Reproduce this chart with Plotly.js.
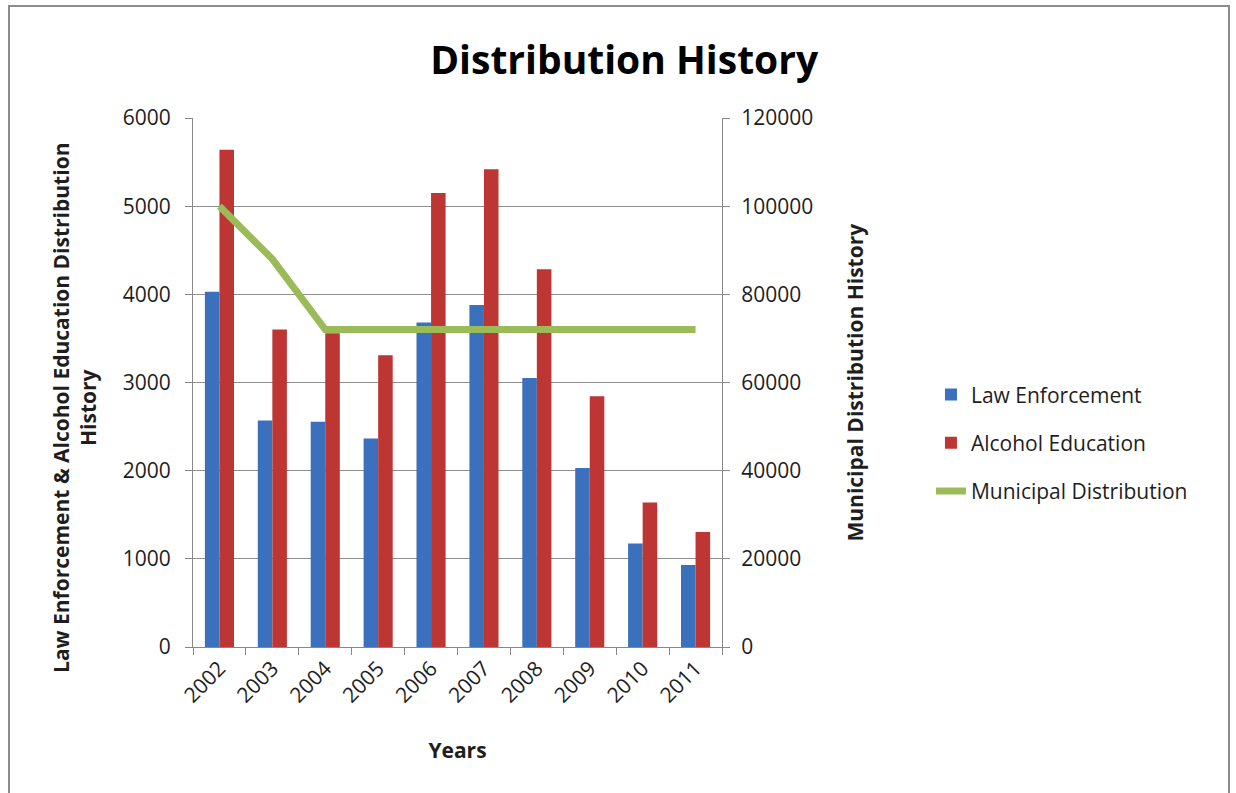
<!DOCTYPE html>
<html>
<head>
<meta charset="utf-8">
<script src="https://cdn.plot.ly/plotly-3.0.1.min.js"></script>
<style>
  html, body { margin: 0; padding: 0; background: #ffffff; }
  #wrap { position: relative; width: 1236px; height: 793px; overflow: hidden; }
  #chart { position: absolute; left: 0; top: 0; width: 1236px; height: 793px; }
  #frame { position: absolute; left: 8px; top: 5px; width: 1222px; height: 900px;
           border: 2px solid #8c8c8c; box-sizing: border-box; pointer-events: none; }
  text { font-variant-ligatures: none; }
</style>
</head>
<body>
<div id="wrap">
  <div id="chart"></div>
  <div id="frame"></div>
</div>
<script>
const years = ['2002','2003','2004','2005','2006','2007','2008','2009','2010','2011'];
const lawEnforcement = [4030, 2570, 2555, 2365, 3680, 3880, 3050, 2030, 1175, 930];
const alcoholEducation = [5640, 3600, 3560, 3310, 5150, 5420, 4285, 2845, 1640, 1305];
const municipalDistribution = [100000, 88000, 72000, 72000, 72000, 72000, 72000, 72000, 72000, 72000];

const FONT = '"Open Sans", Lato, sans-serif';
const TXT = '#1e1e1e';

const traces = [
  {
    type: 'bar', name: 'Law Enforcement', x: years, y: lawEnforcement, legendgroup: 'g1',
    marker: { color: '#3A70BC' }, yaxis: 'y'
  },
  {
    type: 'bar', name: 'Alcohol Education', x: years, y: alcoholEducation, legendgroup: 'g2',
    marker: { color: '#BE3634' }, yaxis: 'y'
  },
  {
    type: 'scatter', mode: 'lines', name: 'Municipal Distribution', x: years, y: municipalDistribution,
    legendgroup: 'g3',
    line: { color: '#9BBB59', width: 7 }, yaxis: 'y2'
  }
];

const layout = {
  width: 1236, height: 793,
  paper_bgcolor: '#ffffff', plot_bgcolor: '#ffffff',
  margin: { l: 193, r: 514, t: 118, b: 146 },
  font: { family: FONT, color: TXT, size: 21 },
  title: {
    text: '<b>Distribution History</b>',
    font: { family: FONT, size: 39, color: '#000000' },
    x: 0.505, xanchor: 'center', xref: 'container',
    y: 0.924, yanchor: 'middle', yref: 'container'
  },
  barmode: 'group', bargap: 0.45, bargroupgap: 0,
  showlegend: true,
  legend: {
    x: 1.395, xanchor: 'left', y: 0.386, yanchor: 'middle',
    font: { family: FONT, size: 21, color: TXT },
    traceorder: 'grouped', tracegroupgap: 18, bgcolor: 'rgba(0,0,0,0)'
  },
  xaxis: {
    type: 'category', tickangle: -45,
    showline: true, linecolor: '#888888', linewidth: 1,
    ticks: 'outside', ticklen: 7, tickcolor: '#888888', tickson: 'boundaries',
    showgrid: false,
    tickfont: { family: FONT, size: 21, color: TXT },
    title: { text: '<b>Years</b>', font: { family: FONT, size: 21, color: TXT }, standoff: 35 }
  },
  yaxis: {
    range: [0, 6000], dtick: 1000,
    showline: true, linecolor: '#888888', linewidth: 1,
    ticks: 'outside', ticklen: 7, tickcolor: '#888888',
    ticklabelstandoff: 10,
    showgrid: true, gridcolor: '#8f8f8f', gridwidth: 1,
    zeroline: false,
    tickfont: { family: FONT, size: 21, color: TXT }
  },
  yaxis2: {
    range: [0, 120000], dtick: 20000, overlaying: 'y', side: 'right',
    tickformat: 'd',
    showline: true, linecolor: '#888888', linewidth: 1,
    ticks: 'outside', ticklen: 7, tickcolor: '#888888',
    ticklabelstandoff: 7,
    showgrid: false, zeroline: false,
    tickfont: { family: FONT, size: 21, color: TXT }
  },
  annotations: [
    {
      text: '<b>Law Enforcement & Alcohol Education Distribution<br>History</b>',
      xref: 'paper', yref: 'paper', x: -0.223, y: 0.452,
      xanchor: 'center', yanchor: 'middle', textangle: -90, showarrow: false,
      font: { family: FONT, size: 21, color: TXT }
    },
    {
      text: '<b>Municipal Distribution History</b>',
      xref: 'paper', yref: 'paper', x: 1.2514, y: 0.5,
      xanchor: 'center', yanchor: 'middle', textangle: -90, showarrow: false,
      font: { family: FONT, size: 21, color: TXT }
    }
  ]
};

Plotly.newPlot('chart', traces, layout, { displayModeBar: false, staticPlot: true });
</script>
</body>
</html>
